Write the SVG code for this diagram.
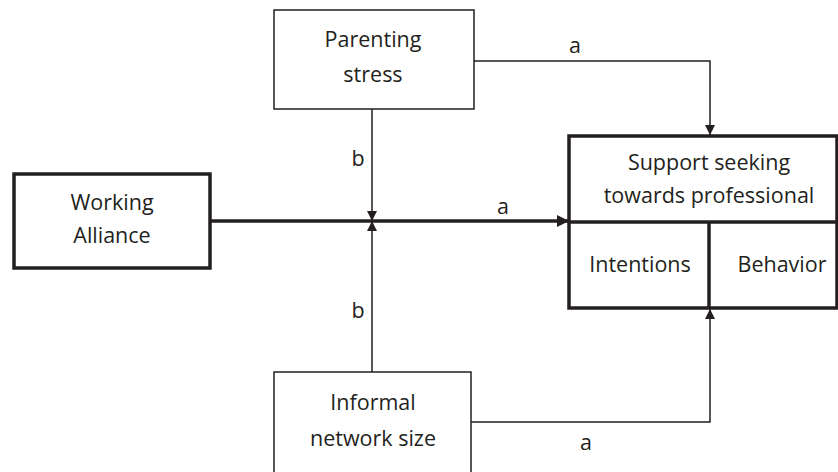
<svg xmlns="http://www.w3.org/2000/svg" width="838" height="472" viewBox="0 0 838 472">
<style>
  text { font-family: "Open Sans", "Noto Sans", "Liberation Sans", sans-serif; font-size: 21.5px; fill: #231f20; text-anchor: middle; }
  .thin { fill: #fff; stroke: #231f20; stroke-width: 1.5; }
  .thick { fill: #fff; stroke: #231f20; stroke-width: 3.5; }
  .line { fill: none; stroke: #231f20; stroke-width: 1.5; }
  .tline { fill: none; stroke: #231f20; stroke-width: 3.5; }
</style>
<defs>
  <marker id="ah" viewBox="0 0 10 10" refX="10" refY="5" markerWidth="10" markerHeight="10" markerUnits="userSpaceOnUse" orient="auto">
    <path d="M0,0 L10,5 L0,10 Z" fill="#231f20"/>
  </marker>
  <marker id="ahb" viewBox="0 0 10 10" refX="10" refY="5" markerWidth="12" markerHeight="12" markerUnits="userSpaceOnUse" orient="auto">
    <path d="M0,0 L10,5 L0,10 Z" fill="#231f20"/>
  </marker>
</defs>
<rect width="838" height="472" fill="#fff"/>
<g id="connectors">
  <path class="line" d="M474,61 H710 V135" marker-end="url(#ah)"/>
  <path class="line" d="M372,109 V221" marker-end="url(#ah)"/>
  <path class="line" d="M372,372 V221" marker-end="url(#ah)"/>
  <path class="tline" d="M210,221 H569" marker-end="url(#ahb)"/>
  <path class="line" d="M471,422 H710 V309" marker-end="url(#ah)"/>
  <text x="575" y="53">a</text>
  <text x="358" y="166">b</text>
  <text x="503" y="214">a</text>
  <text x="358" y="318">b</text>
  <text x="586" y="450">a</text>
</g>
<g id="parenting-stress">
  <rect class="thin" x="274" y="10" width="200" height="99"/>
  <text x="373" y="47">Parenting</text>
  <text x="373" y="82">stress</text>
</g>
<g id="working-alliance">
  <rect class="thick" x="14" y="174" width="196" height="94"/>
  <text x="112" y="210">Working</text>
  <text x="112" y="243">Alliance</text>
</g>
<g id="support-seeking">
  <rect class="thick" x="569" y="136" width="268" height="172"/>
  <line class="tline" x1="569" y1="222" x2="837" y2="222"/>
  <line class="tline" x1="709" y1="222" x2="709" y2="308"/>
  <text x="709" y="170">Support seeking</text>
  <text x="709" y="203">towards professional</text>
  <text x="640" y="272">Intentions</text>
  <text x="782" y="272">Behavior</text>
</g>
<g id="informal-network">
  <rect class="thin" x="274" y="372" width="197" height="110"/>
  <text x="373" y="410">Informal</text>
  <text x="373" y="446">network size</text>
</g>
</svg>
